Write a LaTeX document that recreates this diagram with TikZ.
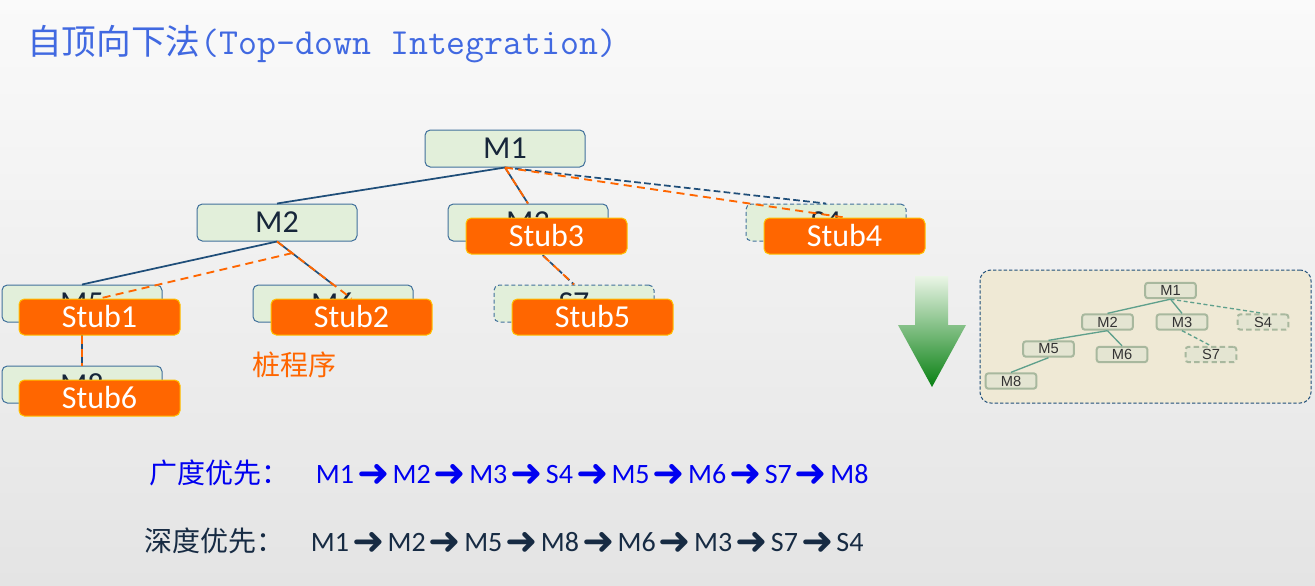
\documentclass[tikz,border=0pt]{standalone}
\usepackage{fontspec}
\setmainfont{Carlito}
\newfontfamily\cjk{Noto Sans CJK SC}
\newfontfamily\calib{Carlito}
\newfontfamily\dvb{DejaVu Sans}
\newfontfamily\arialf{Liberation Sans}
\usetikzlibrary{calc}
\pgfdeclarelayer{bg}
\pgfdeclarelayer{fg}
\pgfsetlayers{bg,main,fg}
\definecolor{modfill}{RGB}{226,239,218}
\definecolor{modline}{RGB}{65,113,156}
\definecolor{navy}{RGB}{31,78,121}
\definecolor{stuborange}{RGB}{255,102,0}
\definecolor{stubline}{RGB}{255,192,0}
\definecolor{txtdark}{RGB}{23,38,58}
\definecolor{titleblue}{RGB}{65,105,225}
\definecolor{insetfill}{RGB}{239,233,213}
\definecolor{insetnode}{RGB}{228,229,210}
\definecolor{insetline}{RGB}{168,184,158}
\definecolor{insetedge}{RGB}{95,160,140}
\definecolor{insettext}{RGB}{51,51,51}
\definecolor{lineblue}{RGB}{0,0,240}
\definecolor{linedark}{RGB}{23,43,67}
\definecolor{bgtop}{RGB}{250,250,250}
\definecolor{bgbot}{RGB}{228,228,228}
\definecolor{arrtop}{RGB}{234,245,230}
\definecolor{arrbot}{RGB}{8,128,18}
\newcommand\ra{\hspace{2.3pt}\raisebox{-2.5pt}{\dvb\fontsize{29pt}{29pt}\selectfont ➜}\hspace{2.3pt}}
\tikzset{
  mod/.style={draw=modline, fill=modfill, rounded corners=4pt, minimum width=120pt,
    minimum height=27.75pt, inner sep=0pt, line width=0.75pt, text=txtdark,
    font=\calib\fontsize{24pt}{24pt}\selectfont},
  smod/.style={mod, dash pattern=on 3pt off 2pt},
  stubbox/.style={draw=stubline, fill=stuborange, rounded corners=4pt, minimum width=120.75pt,
    minimum height=27pt, inner sep=0pt, line width=0.75pt, text=white,
    font=\calib\fontsize{24pt}{24pt}\selectfont},
  nv/.style={draw=navy, line width=1.3pt},
  nvd/.style={nv, dash pattern=on 5pt off 2.5pt},
  og/.style={draw=stuborange, line width=1.4pt, dash pattern=on 6pt off 4pt},
  inmod/.style={draw=insetline, fill=insetnode, line width=1.5pt, rounded corners=2pt,
    minimum width=38pt, minimum height=11.5pt, inner sep=0pt, text=insettext,
    font=\arialf\fontsize{11pt}{11pt}\selectfont},
  insmod/.style={inmod, dash pattern=on 4pt off 2.5pt},
  inedge/.style={draw=insetedge, line width=1pt},
  inedged/.style={inedge, dash pattern=on 3pt off 2pt}
}
\begin{document}
\begin{tikzpicture}[x=0.75pt,y=-0.75pt]
\begin{pgfonlayer}{bg}
\shade[top color=bgtop, bottom color=bgbot] (0,0) rectangle (1315,586);
\end{pgfonlayer}
\useasboundingbox (0,0) rectangle (1315,586);
% title
\node[anchor=base west, inner sep=0pt, text=titleblue] (title) at (27,54)
  {{\cjk\fontsize{26pt}{26pt}\selectfont 自顶向下法}{\ttfamily\fontsize{27.6pt}{27.6pt}\selectfont (Top-down Integration)}};
% modules
\node[mod] (M1) at (505,148.5) {M1};
\node[mod] (M2) at (277,222.5) {M2};
\node[mod] (M3) at (528,222.5) {M3};
\node[smod] (S4) at (826,222.5) {S4};
\node[mod] (M5) at (82,303.5) {M5};
\node[mod] (M6) at (333,303.5) {M6};
\node[smod] (S7) at (574,303.5) {S7};
\node[mod] (M8) at (82,384.5) {M8};
% stubs
\begin{pgfonlayer}{fg}
\node[stubbox] (Stub3) at (546.5,236) {Stub3};
\node[stubbox] (Stub4) at (844.5,236) {Stub4};
\node[stubbox] (Stub1) at (99.5,317) {Stub1};
\node[stubbox] (Stub2) at (351.5,317) {Stub2};
\node[stubbox] (Stub5) at (592.5,317) {Stub5};
\node[stubbox] (Stub6) at (99.5,398) {Stub6};
\end{pgfonlayer}
% navy connectors
\draw[nv] (M1.south) -- (M2.north);
\draw[nv] (M1.south) -- (M3.north);
\draw[nvd] (M1.south) -- (S4.north);
\draw[nv] (M2.south) -- (M5.north);
\draw[nv] (M2.south) -- (M6.north);
\draw[nvd] (M3.south) -- (S7.north);
\draw[nv] (M5.south) -- (M8.north);
% orange stub connectors
\coordinate (c2) at ($(M2.south)!0.27!(M6.north)$);
\draw[og] (M1.south) -- (M3.north);
\draw[og] (M1.south) -- (Stub4.north);
\draw[og] (c2) -- (Stub1.north);
\draw[og] (M2.south) -- (Stub2.north);
\draw[og, dash phase=4pt] (M3.south) -- (S7.north);
\draw[og] (M5.south) -- (M8.north);
% label
\node[text=stuborange, font=\cjk\fontsize{21pt}{21pt}\selectfont] (zcx) at (294,365) {桩程序};
% green arrow
\shade[top color=arrtop, bottom color=arrbot]
  (915,276) -- (948,276) -- (948,325) -- (966,325) -- (932,387) -- (898,325) -- (915,325) -- cycle;
% inset
\node[draw=navy, dash pattern=on 2.5pt off 1.5pt, rounded corners=8pt, fill=insetfill,
  minimum width=248.25pt, minimum height=99.75pt, line width=0.75pt] (inset) at (1145.5,336.5) {};
\node[inmod] (i1) at (1170.5,290.5) {M1};
\node[inmod] (i2) at (1107.5,322) {M2};
\node[inmod] (i3) at (1182,322) {M3};
\node[insmod] (i4) at (1263,322) {S4};
\node[inmod] (i5) at (1048.5,349) {M5};
\node[inmod] (i6) at (1122,354.5) {M6};
\node[insmod] (i7) at (1211,354.5) {S7};
\node[inmod] (i8) at (1011,381) {M8};
\draw[inedge] (i1.south) -- (i2.north);
\draw[inedge] (i1.south) -- (i3.north);
\draw[inedged] (i1.south) -- (i4.north);
\draw[inedge] (i2.south) -- (i5.north);
\draw[inedge] (i2.south) -- (i6.north);
\draw[inedged] (i3.south) -- (i7.north);
\draw[inedge] (i5.south) -- (i8.north);
% orders
\node[anchor=base west, inner sep=0pt, text=lineblue] (bfs) at (149,483)
  {{\cjk\fontsize{21pt}{21pt}\selectfont 广度优先：}\hspace{20pt}{\calib\fontsize{21pt}{21pt}\selectfont M1\ra M2\ra M3\ra S4\ra M5\ra M6\ra S7\ra M8}};
\node[anchor=base west, inner sep=0pt, text=linedark] (dfs) at (144,551)
  {{\cjk\fontsize{21pt}{21pt}\selectfont 深度优先：}\hspace{20pt}{\calib\fontsize{21pt}{21pt}\selectfont M1\ra M2\ra M5\ra M8\ra M6\ra M3\ra S7\ra S4}};
\end{tikzpicture}
\end{document}
